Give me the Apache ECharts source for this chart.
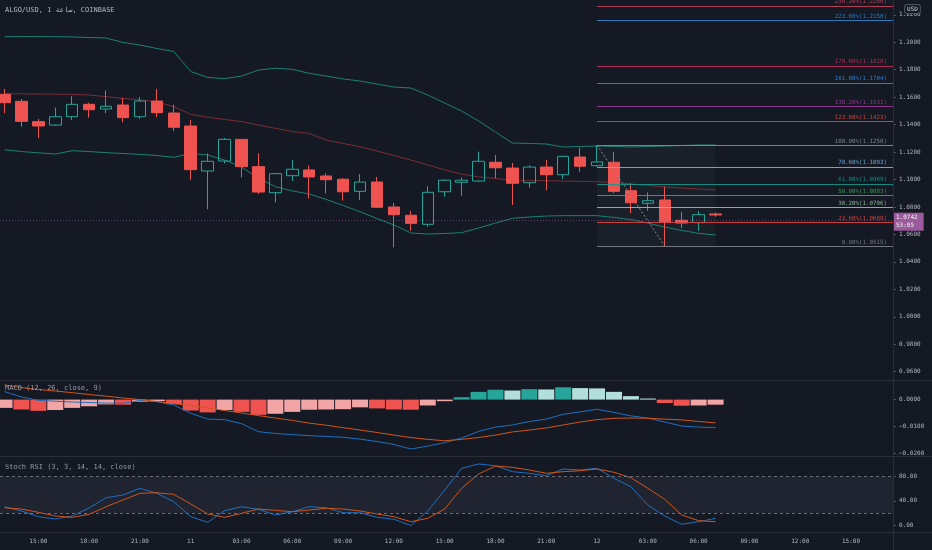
<!DOCTYPE html>
<html><head><meta charset="utf-8">
<script src="https://cdn.jsdelivr.net/npm/echarts@6/dist/echarts.min.js"></script>
<style>html,body{margin:0;padding:0;background:#151924;}#c{width:932px;height:550px;}</style>
</head><body><div id="c"></div>
<script>
// ---------- data ----------
const times = ['13:00','14:00','15:00','16:00','17:00','18:00','19:00','20:00','21:00','22:00','23:00','11',
  '01:00','02:00','03:00','04:00','05:00','06:00','07:00','08:00','09:00','10:00','11:00','12:00','13:00','14:00',
  '15:00','16:00','17:00','18:00','19:00','20:00','21:00','22:00','23:00','12',
  '01:00','02:00','03:00','04:00','05:00','06:00','07:00','08:00','09:00','10:00','11:00','12:00','13:00','14:00',
  '15:00','16:00','17:00'];
const open  = [1.1621,1.1570,1.1422,1.1397,1.1458,1.1548,1.1514,1.1543,1.1458,1.1572,1.1485,1.1390,1.1062,1.1135,1.1293,1.1094,1.0904,1.1028,1.1070,1.1026,1.1002,1.0914,1.0982,1.0800,1.0740,1.0674,1.0911,1.0980,1.0989,1.1126,1.1084,1.0977,1.1091,1.1035,1.1164,1.1101,1.1126,1.0919,1.0827,1.0851,1.0703,1.0686,1.0749];
const close = [1.1560,1.1424,1.1390,1.1458,1.1548,1.1509,1.1534,1.1451,1.1572,1.1487,1.1381,1.1072,1.1133,1.1293,1.1094,1.0909,1.1043,1.1075,1.1019,1.0999,1.0911,1.0982,1.0798,1.0744,1.0681,1.0907,1.0995,1.0995,1.1133,1.1086,1.0973,1.1091,1.1035,1.1169,1.1097,1.1128,1.0914,1.0831,1.0846,1.0691,1.0683,1.0744,1.0742];
const low   = [1.1483,1.1385,1.1301,1.1390,1.1434,1.1451,1.1483,1.1417,1.1441,1.1454,1.1354,1.0997,1.0783,1.1118,1.1016,1.0895,1.0834,1.0989,1.0862,1.0900,1.0846,1.0851,1.0793,1.0506,1.0627,1.0656,1.0875,1.0882,1.0982,1.1009,1.0815,1.0941,1.0922,1.1004,1.1057,1.1094,1.0900,1.0754,1.0773,1.0515,1.0645,1.0627,1.0729];
const high  = [1.1660,1.1587,1.1441,1.1524,1.1607,1.1560,1.1650,1.1596,1.1601,1.1660,1.1545,1.1434,1.1191,1.1303,1.1295,1.1191,1.1048,1.1142,1.1102,1.1046,1.1011,1.1040,1.1019,1.0829,1.0773,1.0951,1.1000,1.1016,1.1203,1.1179,1.1121,1.1104,1.1142,1.1172,1.1232,1.1250,1.1199,1.0973,1.0907,1.0948,1.0764,1.0771,1.0761];

const bbUpper = [1.2041,1.2042,1.2042,1.2041,1.2039,1.2035,1.2031,1.1999,1.1980,1.1955,1.1933,1.1787,1.1744,1.1735,1.1754,1.1798,1.1811,1.1803,1.1774,1.1754,1.1733,1.1718,1.1696,1.1674,1.1667,1.1616,1.1558,1.1499,1.1427,1.1346,1.1266,1.1263,1.1259,1.1237,1.1241,1.1244,1.1241,1.1237,1.1241,1.1244,1.1248,1.1252,1.1252];
const bbMid   = [1.1626,1.1625,1.1623,1.1622,1.1621,1.1616,1.1604,1.1591,1.1580,1.1567,1.1531,1.1475,1.1454,1.1438,1.1422,1.1397,1.1373,1.1350,1.1336,1.1288,1.1263,1.1239,1.1208,1.1175,1.1142,1.1106,1.1070,1.1040,1.1019,1.1008,1.0992,1.0992,1.0992,1.0989,1.0987,1.0984,1.0977,1.0968,1.0957,1.0946,1.0938,1.0931,1.0924];
const bbLower = [1.1217,1.1204,1.1195,1.1186,1.1210,1.1204,1.1196,1.1190,1.1183,1.1175,1.1162,1.1191,1.1179,1.1142,1.1091,1.1009,1.0948,1.0917,1.0895,1.0855,1.0811,1.0766,1.0716,1.0669,1.0611,1.0603,1.0607,1.0613,1.0647,1.0683,1.0718,1.0727,1.0734,1.0737,1.0737,1.0737,1.0724,1.0709,1.0683,1.0654,1.0629,1.0608,1.0596];

const macdLine   = [0.0030,0.0010,-0.0003,-0.0006,-0.0009,-0.0011,-0.0013,-0.0014,-0.0003,-0.0008,-0.0020,-0.0051,-0.0073,-0.0075,-0.0090,-0.0120,-0.0127,-0.0131,-0.0135,-0.0138,-0.0141,-0.0148,-0.0157,-0.0168,-0.0185,-0.0174,-0.0161,-0.0144,-0.0119,-0.0103,-0.0095,-0.0082,-0.0073,-0.0055,-0.0046,-0.0036,-0.0048,-0.0061,-0.0069,-0.0084,-0.0099,-0.0103,-0.0105];
const signalLine = [0.0055,0.0045,0.0038,0.0032,0.0026,0.0019,0.0013,0.0006,0.0000,-0.0007,-0.0015,-0.0022,-0.0031,-0.0041,-0.0050,-0.0060,-0.0069,-0.0078,-0.0088,-0.0096,-0.0105,-0.0114,-0.0123,-0.0133,-0.0142,-0.0149,-0.0154,-0.0149,-0.0142,-0.0133,-0.0121,-0.0114,-0.0106,-0.0095,-0.0084,-0.0075,-0.0070,-0.0069,-0.0070,-0.0073,-0.0076,-0.0082,-0.0087];
const macdHist   = [-0.0031,-0.0037,-0.0042,-0.0039,-0.0031,-0.0025,-0.0018,-0.0019,-0.0008,-0.0006,-0.0017,-0.0041,-0.0048,-0.0039,-0.0046,-0.0057,-0.0053,-0.0046,-0.0038,-0.0037,-0.0036,-0.0029,-0.0033,-0.0037,-0.0038,-0.0022,-0.0006,0.0009,0.0029,0.0037,0.0034,0.0039,0.0038,0.0046,0.0043,0.0042,0.0029,0.0013,0.0004,-0.0013,-0.0023,-0.0022,-0.0019];

const stochK = [30.6,23.6,14.3,10.6,15.4,28.5,45.2,49.6,60.5,52.4,38.7,14.3,5.2,24.1,30.6,26.3,17.1,22.4,30.6,28.9,20.8,20.8,13.3,10.1,0,23.6,57.7,93,100,97.2,87.5,84.9,81,91.9,90.2,93,76.7,63.1,33.3,15.4,2,6.2,11.7];
const stochD = [28.9,26.8,21.5,15.4,13.3,18.2,30.6,41.5,52.4,53.3,50.7,35,18.7,13.3,19.8,26.8,24.7,22.4,25.2,28,26.8,23.6,18.7,14.3,6.2,11.7,26.8,60.5,83.7,96.7,94.6,90.2,84.9,87.5,89.1,91.9,86.5,77.7,60.5,42.6,17.1,7.8,6.2];

const fibPct   = [0, 23.6, 38.2, 50, 61.8, 78.6, 100, 123.6, 138.2, 161.8, 178.6, 223.6, 238.2];
const fibPrice = [1.0515,1.0688,1.0796,1.0883,1.0969,1.1093,1.1250,1.1423,1.1531,1.1704,1.1828,1.2158,1.2266];
const fibStartIdx = 35, fibLowIdx = 39, fibAreaEndIdx = 42;

const priceTicks = [0.96,0.98,1.00,1.02,1.04,1.06,1.08,1.10,1.12,1.14,1.16,1.18,1.20,1.22];
const macdTicks  = [0, -0.01, -0.02];
const stochTicks = [0, 40, 80];
const stochBands = [20, 80];
const headerText = 'ALGO/USD, 1 ساعة, COINBASE';
const macdTitle  = 'MACD (12, 26, close, 9)';
const stochTitle = 'Stoch RSI (3, 3, 14, 14, close)';
const countdown  = '53:05';

// ---------- styling / layout ----------
const FONT = "'DejaVu Sans Mono', 'DejaVu Sans', monospace";
const BG = '#151924', AX = '#2a2e39', TXT = '#b2b5be';
const fibColors = ['#7d808a','#e0453e','#93c09a','#45a060','#14978a','#72b4e0','#8a8d96','#d44a3e','#9a3a98','#2f86e0','#c0305a','#3383cc','#c4425c'];
const xMin = -0.266, xMax = 52.48;
const priceMin = 0.95395, priceMax = 1.23082;
const macdMin = -0.02112, macdMax = 0.00734;
const stochMin = -10.55, stochMax = 111.4;

const last = close.length - 1;
const xTicks = times.map((t, i) => i).filter(i => times[i].indexOf(':') < 0 || parseInt(times[i], 10) % 3 === 0);
const pair = arr => arr.map((v, i) => [i, v]);
const candleData = open.map((o, i) => [i, o, close[i], low[i], high[i]]);
const histData = macdHist.map((v, i) => {
  const prev = i ? macdHist[i - 1] : v;
  let c;
  if (v >= 0) c = v > prev ? '#26a69a' : '#b2dfdb';
  else c = v < prev ? '#ef5350' : '#f2a5a5';
  return { value: [i, v], itemStyle: { color: c } };
});

const fibMark = fibPrice.map((p, k) => [
  { coord: [fibStartIdx, p], lineStyle: { color: fibColors[k], width: 1, type: 'solid', opacity: 0.9 },
    label: { show: true, position: 'insideEndTop', formatter: fibPct[k].toFixed(2) + '%(' + p.toFixed(4) + ')',
             color: fibColors[k], fontSize: 5.8, fontFamily: FONT, distance: [6, 1] } },
  { coord: [xMax, p] }
]);
const diagMark = [
  { coord: [fibStartIdx, fibPrice[6]], lineStyle: { color: '#8a8d96', width: 1, type: [2, 2] }, label: { show: false } },
  { coord: [fibLowIdx, fibPrice[0]] }
];
const priceMark = {
  yAxis: close[last],
  lineStyle: { color: 'rgba(150,100,160,0.55)', type: [1, 2], width: 1 },
  label: { show: true, position: 'end', distance: 0, offset: [0, 1],
           formatter: close[last].toFixed(4) + '\n' + countdown,
           backgroundColor: '#9b5a9b', color: '#f4f4f4', fontSize: 6, lineHeight: 8,
           padding: [1, 6, 1, 3], fontFamily: FONT }
};

const axLabel = { color: TXT, fontSize: 6, fontFamily: FONT, margin: 6 };
const mkX = g => ({
  type: 'value', gridIndex: g, min: xMin, max: xMax, show: g === 2,
  splitLine: { show: false }, axisTick: { show: false },
  axisLine: { show: false, onZero: false },
  axisLabel: Object.assign({ show: g === 2, customValues: xTicks, formatter: v => times[Math.round(v)] }, axLabel, { margin: 6 })
});
const mkY = (g, mn, mx, ticks, fmt) => ({
  type: 'value', gridIndex: g, position: 'right', min: mn, max: mx, scale: true,
  splitLine: { show: false }, axisLine: { show: false, onZero: false },
  axisTick: { show: true, customValues: ticks, length: 3, lineStyle: { color: '#50535e' } },
  axisLabel: Object.assign({ customValues: ticks, formatter: fmt }, axLabel)
});
const signFmt = d => v => (v < 0 ? '\u2212' : '') + Math.abs(v).toFixed(d);
const titleStyle = c => ({ color: c, fontSize: 7, fontWeight: 'normal', fontFamily: FONT });

const option = {
  backgroundColor: BG,
  animation: false,
  title: [
    { text: headerText, left: 5, top: 7, padding: 0, textStyle: titleStyle('#b2b5be') },
    { text: macdTitle, left: 5, top: 385, padding: 0, textStyle: titleStyle('#9598a1') },
    { text: stochTitle, left: 5, top: 464, padding: 0, textStyle: titleStyle('#9598a1') }
  ],
  grid: [
    { left: 0, right: 39, top: 0, height: 380, outerBoundsMode: 'none' },
    { left: 0, right: 39, top: 380, height: 76, outerBoundsMode: 'none' },
    { left: 0, right: 39, top: 457, height: 75, outerBoundsMode: 'none' }
  ],
  xAxis: [mkX(0), mkX(1), mkX(2)],
  yAxis: [
    mkY(0, priceMin, priceMax, priceTicks, v => v.toFixed(4)),
    mkY(1, macdMin, macdMax, macdTicks, signFmt(4)),
    mkY(2, stochMin, stochMax, stochTicks, v => v.toFixed(2))
  ],
  series: [
    { type: 'line', xAxisIndex: 0, yAxisIndex: 0, data: pair(bbUpper), symbol: 'none', z: 2,
      lineStyle: { color: '#1c7f74', width: 1 } },
    { type: 'line', xAxisIndex: 0, yAxisIndex: 0, data: pair(bbMid), symbol: 'none', z: 2,
      lineStyle: { color: '#7a2d35', width: 1 } },
    { type: 'line', xAxisIndex: 0, yAxisIndex: 0, data: pair(bbLower), symbol: 'none', z: 2,
      lineStyle: { color: '#1c7f74', width: 1 } },
    { type: 'candlestick', xAxisIndex: 0, yAxisIndex: 0, z: 4,
      encode: { x: 0, y: [1, 2, 3, 4] },
      data: candleData, barWidth: 12,
      itemStyle: { color: 'rgba(0,0,0,0)', color0: '#ef5350', borderColor: '#26a69a', borderColor0: '#ef5350', borderWidth: 1 },
      markArea: { silent: true, itemStyle: { color: 'rgba(120,150,160,0.06)' },
        data: [[{ coord: [fibStartIdx, fibPrice[0]] }, { coord: [fibAreaEndIdx, fibPrice[6]] }]] },
      markLine: { silent: true, symbol: ['none', 'none'], label: { show: false },
        data: fibMark.concat([diagMark, priceMark]) }
    },
    { type: 'bar', xAxisIndex: 1, yAxisIndex: 1, data: histData, barWidth: 16 },
    { type: 'line', xAxisIndex: 1, yAxisIndex: 1, data: pair(macdLine), symbol: 'none', z: 3,
      lineStyle: { color: '#1f6fc0', width: 1 } },
    { type: 'line', xAxisIndex: 1, yAxisIndex: 1, data: pair(signalLine), symbol: 'none', z: 3,
      lineStyle: { color: '#d0561a', width: 1 } },
    { type: 'line', xAxisIndex: 2, yAxisIndex: 2, data: pair(stochK), symbol: 'none', z: 3,
      lineStyle: { color: '#1f6fc0', width: 1 },
      markArea: { silent: true, itemStyle: { color: 'rgba(150,160,190,0.08)' },
        data: [[{ yAxis: stochBands[0] }, { yAxis: stochBands[1] }]] },
      markLine: { silent: true, symbol: ['none', 'none'], label: { show: false },
        lineStyle: { color: '#6a6d78', type: [3, 3], width: 1 },
        data: stochBands.map(v => ({ yAxis: v })) } },
    { type: 'line', xAxisIndex: 2, yAxisIndex: 2, data: pair(stochD), symbol: 'none', z: 3,
      lineStyle: { color: '#d0561a', width: 1 } }
  ],
  graphic: [
    { type: 'line', z: 50, shape: { x1: 0, y1: 380.5, x2: 932, y2: 380.5 }, style: { stroke: AX, lineWidth: 1 } },
    { type: 'line', z: 50, shape: { x1: 0, y1: 456.5, x2: 932, y2: 456.5 }, style: { stroke: AX, lineWidth: 1 } },
    { type: 'line', z: 50, shape: { x1: 0, y1: 532.5, x2: 932, y2: 532.5 }, style: { stroke: AX, lineWidth: 1 } },
    { type: 'line', z: 50, shape: { x1: 893.5, y1: 0, x2: 893.5, y2: 550 }, style: { stroke: AX, lineWidth: 1 } },
    { type: 'text', z: 100, left: 904, top: 4,
      style: { text: 'USD', fill: '#d1d4dc', font: '6px ' + FONT, backgroundColor: BG,
               borderColor: '#50535e', borderWidth: 1, borderRadius: 2, padding: [1, 2] } }
  ]
};
const chart = echarts.init(document.getElementById('c'));
chart.setOption(option);
</script></body></html>
